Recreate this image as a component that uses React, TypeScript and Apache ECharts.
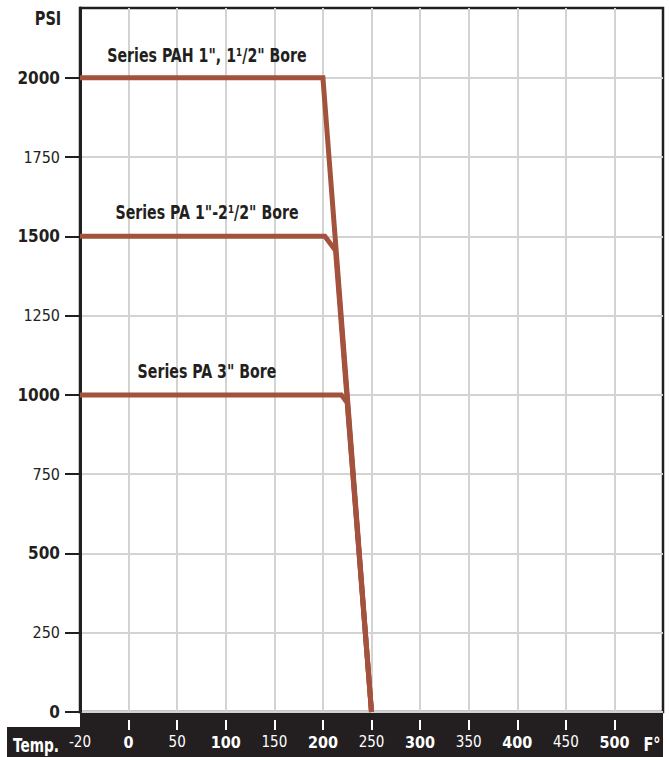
import React, { useEffect, useRef } from "react";
import * as echarts from "echarts";

// Axis ticks and labels
const xTickValues = [-50, 0, 50, 100, 150, 200, 250, 300, 350, 400, 450, 500];
const xTickLabels = ["-20", "0", "50", "100", "150", "200", "250", "300", "350", "400", "450", "500"];
const xTickBold = [false, true, false, true, false, true, false, true, false, true, false, true];
const xMarkValues = [0, 50, 100, 150, 200, 250, 300, 350, 400, 450, 500];

const yTickValues = [0, 250, 500, 750, 1000, 1250, 1500, 1750, 2000];
const yTickBold = [true, false, true, false, true, false, true, false, true];

// Series: temperature (°F) vs pressure (PSI)
const pahName = "Series PAH 1\", 1\u00B9/2\" Bore";
const pahTemp = [-50, 200, 250];
const pahPsi = [2000, 2000, 0];

const pa1Name = "Series PA 1\"-2\u00B9/2\" Bore";
const pa1Temp = [-50, 202, 213, 250];
const pa1Psi = [1500, 1500, 1455, 0];

const pa3Name = "Series PA 3\" Bore";
const pa3Temp = [-50, 219, 225, 250];
const pa3Psi = [1000, 1000, 975, 0];

const LINE = "#a3523d";
const INK = "#231f20";
const FONT = "'DejaVu Sans Condensed', 'DejaVu Sans', sans-serif";

function pairs(xs: number[], ys: number[]) {
  return xs.map((x, i) => [x, ys[i]]);
}

function label(text: string, x: number, y: number, fill: string, sx = 0.82) {
  return {
    type: "text",
    x,
    y,
    z: 10,
    scaleX: sx,
    style: {
      text,
      fill,
      font: `bold 19px ${FONT}`,
      textAlign: "center",
      textVerticalAlign: "middle",
    },
  };
}

export default function App() {
  const ref = useRef<HTMLDivElement>(null);
  useEffect(() => {
    if (!ref.current) return;
    const chart = echarts.init(ref.current, undefined, { renderer: "svg" });
    const lineSeries = (name: string, xs: number[], ys: number[]) => ({
      name,
      type: "line",
      data: pairs(xs, ys),
      showSymbol: false,
      symbol: "none",
      lineStyle: { color: LINE, width: 5, join: "miter", cap: "butt" },
      z: 5,
    });
    chart.setOption({
      animation: false,
      grid: {
        left: 80,
        right: 6,
        top: 8,
        bottom: 45,
        show: true,
        borderColor: INK,
        borderWidth: 2.5,
        backgroundColor: "transparent",
      },
      xAxis: {
        type: "value",
        min: -50,
        max: 550,
        interval: 50,
        offset: 8,
        axisLine: { show: false, onZero: false },
        axisTick: {
          show: true,
          customValues: xMarkValues,
          length: 10,
          lineStyle: { color: "#ffffff", width: 2 },
        },
        splitLine: { show: true, lineStyle: { color: "#d3d3d3", width: 2 } },
        axisLabel: {
          customValues: xTickValues,
          margin: 14,
          color: "#ffffff",
          fontFamily: FONT,
          formatter: (v: number) => {
            const i = xTickValues.indexOf(v);
            if (i < 0) return "";
            return xTickBold[i] ? `{b|${xTickLabels[i]}}` : `{n|${xTickLabels[i]}}`;
          },
          rich: {
            b: { fontFamily: FONT, fontWeight: "bold", fontSize: 16, color: "#ffffff" },
            n: { fontFamily: FONT, fontWeight: "normal", fontSize: 15, color: "#ffffff" },
          },
        },
      },
      yAxis: {
        type: "value",
        min: 0,
        max: 2220,
        interval: 250,
        axisLine: { show: true, onZero: false, lineStyle: { color: INK, width: 3 } },
        axisTick: { show: true, customValues: yTickValues, length: 15, lineStyle: { color: INK, width: 2 } },
        splitLine: { show: true, lineStyle: { color: "#d3d3d3", width: 2 } },
        axisLabel: {
          customValues: yTickValues,
          margin: 20,
          fontFamily: FONT,
          formatter: (v: number) => {
            const i = yTickValues.indexOf(v);
            if (i < 0) return "";
            return yTickBold[i] ? `{b|${v}}` : `{n|${v}}`;
          },
          rich: {
            b: { fontFamily: FONT, fontWeight: "bold", fontSize: 17, color: INK },
            n: { fontFamily: FONT, fontWeight: "normal", fontSize: 16, color: INK },
          },
        },
      },
      graphic: [
        { type: "rect", z: -10, shape: { x: 7, y: 727, width: 80, height: 30 }, style: { fill: INK } },
        { type: "rect", z: -10, shape: { x: 80, y: 712, width: 583, height: 45 }, style: { fill: INK } },
        label("Temp.", 36, 745, "#ffffff", 0.8),
        label("F\u00B0", 652, 745, "#ffffff", 0.85),
        label("PSI", 48, 19, INK, 0.85),
        label(pahName, 207, 55, INK, 0.83),
        label(pa1Name, 207, 212, INK, 0.83),
        label(pa3Name, 207, 371, INK, 0.83),
      ],
      series: [
        lineSeries(pahName, pahTemp, pahPsi),
        lineSeries(pa1Name, pa1Temp, pa1Psi),
        lineSeries(pa3Name, pa3Temp, pa3Psi),
      ],
    });
    return () => chart.dispose();
  }, []);
  return (
    <div
      ref={ref}
      style={{ position: "fixed", left: 0, top: 0, width: 669, height: 757, background: "#ffffff" }}
    />
  );
}
